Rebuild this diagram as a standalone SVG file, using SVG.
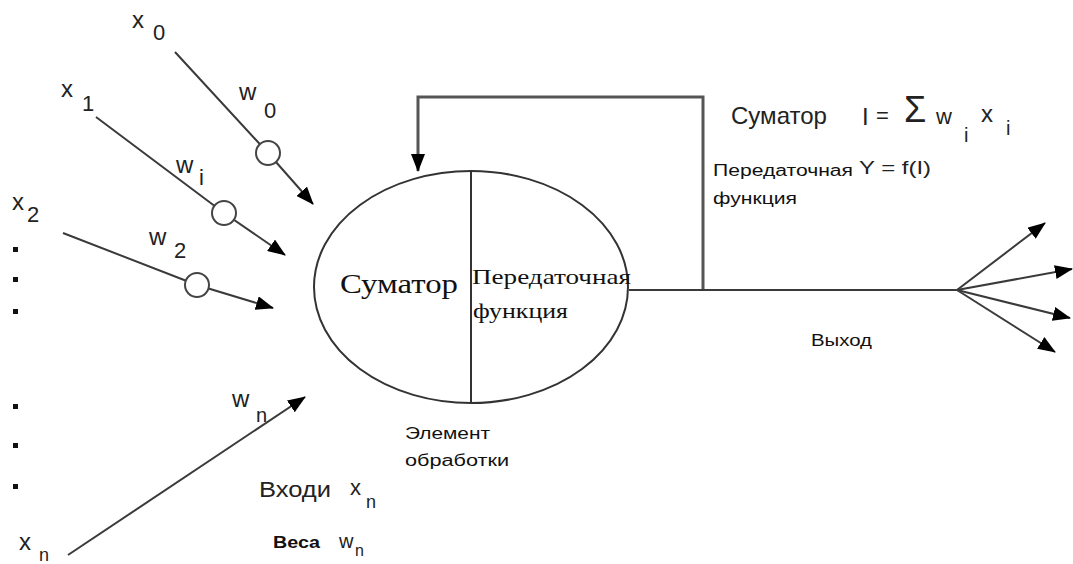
<svg xmlns="http://www.w3.org/2000/svg" width="1073" height="564" viewBox="0 0 1073 564">
<style>
.ln{fill:none;stroke:#3a3a3a;stroke-width:2}
.fb{fill:none;stroke:#555;stroke-width:3}
.wc{fill:#fff;stroke:#444;stroke-width:2}
.t{font-family:"Liberation Sans",Arial,sans-serif;fill:#222}
.s{font-family:"Liberation Serif","Times New Roman",serif;fill:#111}
.sm{font-family:"Liberation Sans",Arial,sans-serif;fill:#111;font-size:16px}
.dot{fill:#111}
</style>
<defs>
<marker id="ah" markerUnits="userSpaceOnUse" markerWidth="18" markerHeight="14" refX="17" refY="7" orient="auto">
<path d="M0,0 L18,7 L0,14 z" fill="#000"/>
</marker>
</defs>
<rect width="1073" height="564" fill="#fff"/>
<g id="connectors">
<path class="ln" d="M175,52 L268,153 L313,204" marker-end="url(#ah)"/>
<path class="ln" d="M96,117 L224,213 L285,255" marker-end="url(#ah)"/>
<path class="ln" d="M63,233 L197,285 L273,308" marker-end="url(#ah)"/>
<path class="ln" d="M68,555 L305,397" marker-end="url(#ah)"/>
<path class="fb" d="M703,290 L703,97 L418,97 L418,171" marker-end="url(#ah)"/>
<path class="ln" d="M629,290 L957,290"/>
<path class="ln" d="M957,290 L1045,223" marker-end="url(#ah)"/>
<path class="ln" d="M957,290 L1072,269" marker-end="url(#ah)"/>
<path class="ln" d="M957,290 L1070,318" marker-end="url(#ah)"/>
<path class="ln" d="M957,290 L1055,352" marker-end="url(#ah)"/>
</g>
<g id="weight0"><circle class="wc" cx="268" cy="153" r="12"/></g>
<g id="weight1"><circle class="wc" cx="224" cy="213" r="12"/></g>
<g id="weight2"><circle class="wc" cx="197" cy="285" r="12"/></g>
<g id="neuron">
<ellipse cx="471" cy="287" rx="157" ry="116" fill="none" stroke="#333" stroke-width="2"/>
<line x1="471" y1="171" x2="471" y2="403" stroke="#333" stroke-width="2"/>
<text class="s" x="340" y="293" font-size="27" textLength="118" lengthAdjust="spacingAndGlyphs">Суматор</text>
<text class="s" x="472" y="284" font-size="22" textLength="159" lengthAdjust="spacingAndGlyphs">Передаточная</text>
<text class="s" x="473" y="318" font-size="22" textLength="95" lengthAdjust="spacingAndGlyphs">функция</text>
</g>
<g id="inputs">
<text class="t" x="132" y="28" font-size="24">x</text><text class="t" x="153" y="40" font-size="22">0</text>
<text class="t" x="61" y="97" font-size="24">x</text><text class="t" x="82" y="111" font-size="22">1</text>
<text class="t" x="12" y="210" font-size="24">x</text><text class="t" x="27" y="222" font-size="22">2</text>
<text class="t" x="19" y="550" font-size="24">x</text><text class="t" x="39" y="561" font-size="18">n</text>
<rect class="dot" x="13" y="247" width="5" height="5"/>
<rect class="dot" x="13" y="277" width="5" height="5"/>
<rect class="dot" x="13" y="309" width="5" height="5"/>
<rect class="dot" x="13" y="404" width="5" height="5"/>
<rect class="dot" x="13" y="443" width="5" height="5"/>
<rect class="dot" x="13" y="484" width="5" height="5"/>
</g>
<g id="weights-labels">
<text class="t" x="239" y="100" font-size="24">w</text><text class="t" x="264" y="118" font-size="22">0</text>
<text class="t" x="176" y="173" font-size="24">w</text><text class="t" x="199" y="185" font-size="22">i</text>
<text class="t" x="149" y="245" font-size="24">w</text><text class="t" x="174" y="258" font-size="22">2</text>
<text class="t" x="232" y="407" font-size="24">w</text><text class="t" x="256" y="422" font-size="20">n</text>
</g>
<g id="legend">
<text class="t" x="259" y="497" font-size="22" textLength="72" lengthAdjust="spacingAndGlyphs">Входи</text>
<text class="t" x="350" y="495" font-size="22">x</text><text class="t" x="366" y="508" font-size="18">n</text>
<text class="sm" x="273" y="548" font-weight="bold" textLength="47" lengthAdjust="spacingAndGlyphs">Веса</text>
<text class="t" x="339" y="548" font-size="20">w</text><text class="t" x="355" y="556" font-size="16">n</text>
<text class="sm" x="405" y="439" textLength="85" lengthAdjust="spacingAndGlyphs">Элемент</text>
<text class="sm" x="405" y="466" textLength="104" lengthAdjust="spacingAndGlyphs">обработки</text>
<text class="sm" x="811" y="346" textLength="61" lengthAdjust="spacingAndGlyphs">Выход</text>
</g>
<g id="formulas">
<text class="t" x="731" y="124" font-size="24" textLength="96" lengthAdjust="spacingAndGlyphs">Суматор</text>
<text class="t" x="862" y="125" font-size="24">I</text>
<text class="t" x="876" y="123" font-size="22">=</text>
<text class="t" x="904" y="122" font-size="36">Σ</text>
<text class="t" x="936" y="124" font-size="22">w</text>
<text class="t" x="964" y="142" font-size="20">i</text>
<text class="t" x="981" y="122" font-size="24">x</text>
<text class="t" x="1006" y="135" font-size="20">i</text>
<text class="sm" x="713" y="176" textLength="140" lengthAdjust="spacingAndGlyphs">Передаточная</text>
<text class="t" x="859" y="174" font-size="18" textLength="72" lengthAdjust="spacingAndGlyphs">Y = f(I)</text>
<text class="sm" x="713" y="204" textLength="84" lengthAdjust="spacingAndGlyphs">функция</text>
</g>
</svg>
